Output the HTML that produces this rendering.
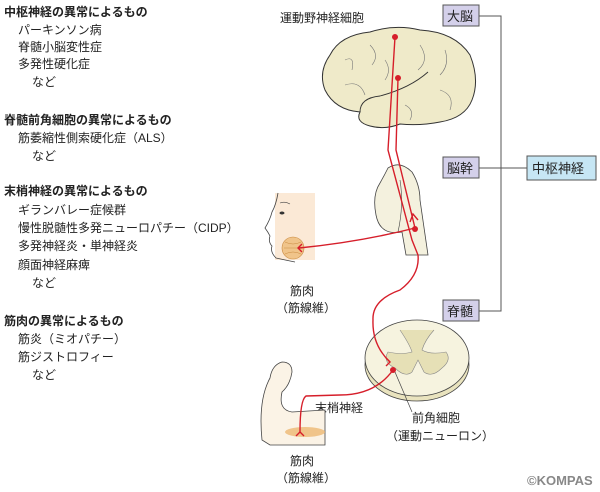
<!DOCTYPE html>
<html><head><meta charset="utf-8"><style>
body{margin:0;background:#fff;}
svg{display:block;font-family:"Liberation Sans","Noto Sans CJK JP",sans-serif;}
</style></head><body>
<svg width="600" height="492" viewBox="0 0 600 492">
<g font-size="12" fill="#222">
<text x="4" y="16" font-weight="bold">中枢神経の異常によるもの</text>
<text x="18" y="34">パーキンソン病</text>
<text x="18" y="51">脊髄小脳変性症</text>
<text x="18" y="68">多発性硬化症</text>
<text x="32" y="86">など</text>
<text x="4" y="124" font-weight="bold">脊髄前角細胞の異常によるもの</text>
<text x="18" y="142">筋萎縮性側索硬化症（ALS）</text>
<text x="32" y="160">など</text>
<text x="4" y="195" font-weight="bold">末梢神経の異常によるもの</text>
<text x="18" y="214">ギランバレー症候群</text>
<text x="18" y="232">慢性脱髄性多発ニューロパチー（CIDP）</text>
<text x="18" y="250">多発神経炎・単神経炎</text>
<text x="18" y="269">顔面神経麻痺</text>
<text x="32" y="287">など</text>
<text x="4" y="325" font-weight="bold">筋肉の異常によるもの</text>
<text x="18" y="343">筋炎（ミオパチー）</text>
<text x="18" y="361">筋ジストロフィー</text>
<text x="32" y="379">など</text>
<text x="280" y="22">運動野神経細胞</text>
<text x="290" y="295">筋肉</text>
<text x="276" y="312">（筋線維）</text>
<text x="315" y="412">末梢神経</text>
<text x="412" y="422">前角細胞</text>
<text x="386" y="440">（運動ニューロン）</text>
<text x="290" y="465">筋肉</text>
<text x="276" y="482">（筋線維）</text>
</g>
<text x="527" y="485" font-size="13" font-weight="bold" fill="#888" font-family="Liberation Sans,sans-serif">©KOMPAS</text>
<g stroke="#555" stroke-width="1" fill="none">
<path d="M479 16H501V311H479M479 168H527"/>
</g>
<g font-size="13" fill="#222">
<rect x="443" y="5" width="36" height="21" fill="#d4d0ea" stroke="#555"/><text x="447" y="21">大脳</text>
<rect x="443" y="157" width="36" height="21" fill="#d4d0ea" stroke="#555"/><text x="447" y="173">脳幹</text>
<rect x="443" y="300" width="36" height="21" fill="#d4d0ea" stroke="#555"/><text x="447" y="316">脊髄</text>
<rect x="527" y="156" width="69" height="24" fill="#c6e6f4" stroke="#555"/><text x="532" y="173">中枢神経</text>
</g>
<!-- brainstem -->
<path d="M388 168 Q400 160 412 172 Q420 185 420 200 L428 255 L406 255 L402 232 Q380 236 376 215 Q372 195 380 183 Q384 176 388 168Z" fill="#f4f1de" stroke="#444" stroke-width="0.8"/>
<path d="M398 232 Q404 205 400 180" fill="none" stroke="#444" stroke-width="0.6"/>
<!-- brain -->
<path d="M330 55 Q340 35 370 32 Q395 24 420 30 Q455 32 470 55 Q480 80 472 100 Q465 118 440 122 Q420 126 400 124 Q385 130 370 126 Q355 122 360 112 Q335 110 325 90 Q318 72 330 55Z" fill="#efeac9" stroke="#333" stroke-width="1"/>
<path d="M360 112 Q360 98 380 96 Q410 88 428 72" fill="none" stroke="#333" stroke-width="0.9"/>
<g fill="none" stroke="#777" stroke-width="0.6">
<path d="M345 60 Q355 55 352 70 M370 45 Q380 55 372 65 M420 45 Q430 60 418 70 M445 50 Q450 65 440 75 M345 85 Q360 80 365 95 M440 90 Q455 95 450 110 M405 105 Q415 110 410 120 M385 60 Q392 70 385 80"/>
</g>
<!-- face -->
<rect x="275" y="193" width="40" height="67" fill="#fbe9d6"/>
<path d="M278 193 Q276 205 272 212 Q270 220 265 228 Q268 232 270 236 Q268 242 272 246 Q270 252 276 258 Q285 260 295 262" fill="none" stroke="#444" stroke-width="0.8"/>
<path d="M280 203 Q285 201 290 204" fill="none" stroke="#444" stroke-width="0.6"/>
<ellipse cx="282" cy="213" rx="2.5" ry="1.5" fill="#333"/>
<circle cx="293" cy="248" r="11" fill="#f0c48a" stroke="#c98a40" stroke-width="0.6"/>
<g fill="none" stroke="#c98a40" stroke-width="0.5"><path d="M285 242 Q293 246 301 242 M284 248 H302 M285 254 Q293 250 301 254"/></g>
<!-- spinal cord -->
<ellipse cx="417" cy="365" rx="52" ry="36" fill="#e9e3be" stroke="#444" stroke-width="0.8"/>
<ellipse cx="417" cy="358" rx="52" ry="38" fill="#f6f3df" stroke="#444" stroke-width="0.8"/>
<path d="M400 330 Q410 345 412 352 Q402 355 388 352 Q382 362 395 368 Q405 378 412 372 L418 360 L424 372 Q432 378 442 368 Q452 360 446 352 Q430 355 422 350 Q425 340 434 330" fill="#e6e0b6" stroke="#888" stroke-width="0.6"/>
<!-- arm -->
<path d="M262 440 Q258 400 270 378 Q272 365 282 362 Q292 362 292 372 Q290 385 282 392 Q278 410 292 412 L325 410 L325 445 L270 445Z" fill="#fbf3e6" stroke="#444" stroke-width="0.8"/>
<ellipse cx="305" cy="432" rx="20" ry="5" fill="#f0c48a"/>
<!-- red nerves -->
<g fill="none" stroke="#d61e2a" stroke-width="1.4">
<path d="M395 37 L388 150 L412 240 L418 255 Q420 275 400 290 Q372 300 373 320 Q372 345 390 362"/>
<path d="M398 78 L396 150 L415 228"/>
<path d="M415 228 Q360 242 299 248"/>
<path d="M393 370 Q375 395 340 395 L306 396 Q300 400 300 432"/>
<path d="M296 436 L300 432 L304 436 M410 222 L413 214 L418 220 M386 358 L390 362 L386 366 M302 244 L298 248 L302 252"/>
</g>
<g fill="#d61e2a"><circle cx="395" cy="37" r="3"/><circle cx="398" cy="78" r="3"/><circle cx="415" cy="229" r="3"/><circle cx="393" cy="370" r="3"/></g>
<path d="M395 372 L412 412" stroke="#444" stroke-width="0.7"/>
</svg>
</body></html>
